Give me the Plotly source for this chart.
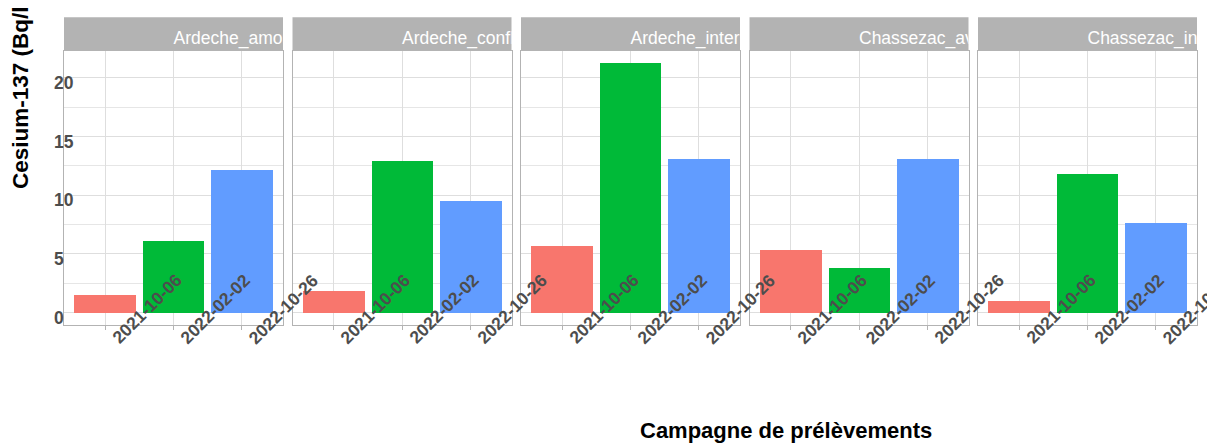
import plotly.graph_objects as go

# ---------------- data ----------------
sites = ["Ardeche_amont", "Ardeche_confluence", "Ardeche_intermediaire",
         "Chassezac_aval", "Chassezac_intermediaire"]
dates = ["2021-10-06", "2022-02-02", "2022-10-26"]
ardeche_amont = [1.5, 6.1, 12.15]
ardeche_confluence = [1.85, 12.9, 9.5]
ardeche_intermediaire = [5.68, 21.25, 13.08]
chassezac_aval = [5.34, 3.8, 13.08]
chassezac_intermediaire = [1.0, 11.8, 7.63]
y_ticks = [0, 5, 10, 15, 20]

values = [ardeche_amont, ardeche_confluence, ardeche_intermediaire,
          chassezac_aval, chassezac_intermediaire]
colors = ["#F8766D", "#00BA38", "#619CFF"]

# ---------------- geometry helpers ----------------
# the page body has an 8px margin, so the figure starts at (8, 8) in the window
OFF = 8
W, H = 1215 - OFF, 445 - OFF
def px_x(p):
    return (p - OFF) / W
def px_y(p):
    return 1 - (p - OFF) / H

FONT = "Liberation Sans, Arial, sans-serif"
panel_left = [64, 292.5, 521, 749.5, 978]
panel_w = 219
panel_top, panel_bot = 50.7, 325
strip_top = 17.3

ymax = max(max(v) for v in values)
yrange = [-0.05 * ymax, 1.05 * ymax]

fig = go.Figure()
layout = dict(
    width=W, height=H,
    margin=dict(l=0, r=0, t=0, b=0),
    paper_bgcolor="white",
    plot_bgcolor="rgba(0,0,0,0)",
    showlegend=False,
    bargap=0,
)
annotations = []
shapes = []

for i, site in enumerate(sites):
    n = i + 1
    xs = "" if n == 1 else str(n)
    xdom = [px_x(panel_left[i]), px_x(panel_left[i] + panel_w)]
    fig.add_trace(go.Bar(
        x=dates, y=values[i], marker_color=colors, marker_line_width=0,
        width=0.9, xaxis="x" + xs, yaxis="y" + xs, showlegend=False,
    ))
    layout["xaxis" + xs] = dict(
        domain=xdom, anchor="y" + xs, type="category",
        categoryorder="array", categoryarray=dates,
        range=[-0.6, len(dates) - 0.4],
        showgrid=True, gridcolor="#dedede", gridwidth=1,
        showline=True, linecolor="#b3b3b3", linewidth=1, mirror=True,
        ticks="outside", ticklen=4, tickcolor="#b3b3b3",
        showticklabels=False, fixedrange=True,
    )
    ax = dict(
        domain=[px_y(panel_bot), px_y(panel_top)], anchor="x" + xs,
        range=yrange, tickvals=y_ticks,
        showgrid=True, gridcolor="#dedede", gridwidth=1, zeroline=False,
        minor=dict(dtick=2.5, tick0=0, showgrid=True, gridcolor="#e6e6e6", gridwidth=1),
        showline=True, linecolor="#b3b3b3", linewidth=1, mirror=True,
        ticks="", showticklabels=False, fixedrange=True,
    )
    if n > 1:
        ax["matches"] = "y"
    layout["yaxis" + xs] = ax

    # strip background
    shapes.append(dict(
        type="rect", xref="paper", yref="paper", layer="below",
        x0=xdom[0], x1=xdom[1], y0=px_y(panel_top), y1=px_y(strip_top),
        fillcolor="#b3b3b3", line=dict(width=0),
    ))
    # strip label, clipped to the strip via an overlay subplot
    m = str(n + 5)
    layout["xaxis" + m] = dict(domain=xdom, anchor="y" + m, range=[0, 1],
                               visible=False, fixedrange=True)
    layout["yaxis" + m] = dict(domain=[px_y(panel_top), px_y(strip_top)],
                               anchor="x" + m, range=[0, 1],
                               visible=False, fixedrange=True)
    fig.add_trace(go.Scatter(
        x=[0.5], y=[0.32], mode="text", text=[site],
        textposition="middle right", cliponaxis=True,
        textfont=dict(size=17.5, color="white", family=FONT),
        xaxis="x" + m, yaxis="y" + m, hoverinfo="skip", showlegend=False,
    ))

    # x tick labels (rotated, starting at the tick)
    for d in dates:
        annotations.append(dict(
            x=d, xref="x" + xs, y=px_y(308.5), yref="paper",
            text=d, textangle=-45, showarrow=False,
            xanchor="center", yanchor="middle", xshift=41.5,
            font=dict(size=17.5, color="#4d4d4d", family=FONT, weight="bold"),
        ))

# y tick labels
for v in y_ticks:
    annotations.append(dict(
        x=px_x(52), xref="paper", y=v, yref="y", text=str(v),
        showarrow=False, xanchor="left", yanchor="middle", yshift=-5,
        font=dict(size=17.5, color="#4d4d4d", family=FONT, weight="bold"),
    ))

# axis titles
annotations.append(dict(
    x=px_x(785.5), xref="paper", y=px_y(430), yref="paper",
    text="Campagne de prélèvements", showarrow=False,
    xanchor="center", yanchor="middle",
    font=dict(size=22, color="black", family=FONT, weight="bold"),
))
annotations.append(dict(
    x=px_x(20), xref="paper", y=px_y(191), yref="paper",
    text="Cesium-137 (Bq/l)", textangle=-90, showarrow=False,
    xanchor="center", yanchor="bottom",
    font=dict(size=22.5, color="black", family=FONT, weight="bold"),
))

layout["annotations"] = annotations
layout["shapes"] = shapes
fig.update_layout(**layout)
fig.write_html("out.html")
